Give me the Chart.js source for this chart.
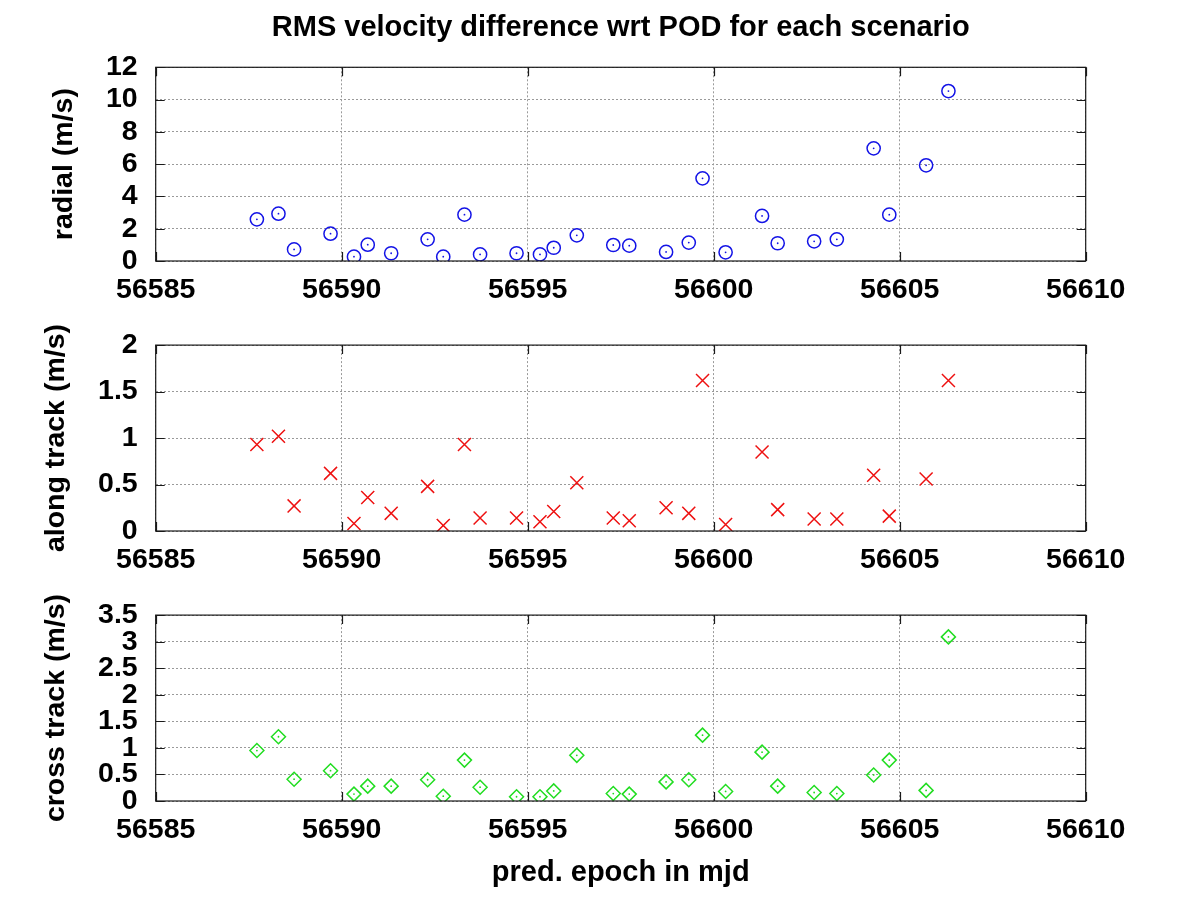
<!DOCTYPE html>
<html><head><meta charset="utf-8">
<script src="https://cdn.jsdelivr.net/npm/chart.js@4"></script>
<style>
html,body{margin:0;padding:0;background:#fff;width:1200px;height:900px;overflow:hidden}
canvas{position:absolute;left:0}
</style></head>
<body>
<canvas id="c1" width="1200" height="310" style="top:0px"></canvas>
<canvas id="c2" width="1200" height="270" style="top:310px"></canvas>
<canvas id="c3" width="1200" height="320" style="top:580px"></canvas>
<script>
// ---- data ----
const epochs = [56587.72, 56588.30, 56588.72, 56589.70, 56590.33, 56590.70, 56591.33, 56592.31, 56592.73, 56593.30,
                56593.72, 56594.70, 56595.33, 56595.70, 56596.32, 56597.30, 56597.73, 56598.72, 56599.33, 56599.70,
                56600.32, 56601.30, 56601.72, 56602.70, 56603.31, 56604.30, 56604.72, 56605.71, 56606.31];
const radial = [2.58, 2.93, 0.72, 1.69, 0.27, 1.01, 0.48, 1.34, 0.27, 2.87,
                0.41, 0.48, 0.41, 0.82, 1.59, 0.99, 0.95, 0.56, 1.14, 5.12,
                0.54, 2.79, 1.10, 1.22, 1.34, 6.98, 2.87, 5.93, 10.53];
const alongTrack = [0.93, 1.02, 0.27, 0.62, 0.08, 0.36, 0.19, 0.48, 0.06, 0.93,
                    0.14, 0.14, 0.10, 0.21, 0.52, 0.14, 0.11, 0.25, 0.19, 1.62,
                    0.07, 0.85, 0.23, 0.13, 0.13, 0.60, 0.16, 0.56, 1.62];
const crossTrack = [0.95, 1.21, 0.41, 0.57, 0.13, 0.28, 0.28, 0.40, 0.09, 0.77,
                    0.26, 0.08, 0.08, 0.19, 0.86, 0.14, 0.13, 0.36, 0.40, 1.24,
                    0.18, 0.92, 0.28, 0.16, 0.14, 0.49, 0.77, 0.20, 3.09];
const xTicks = [56585, 56590, 56595, 56600, 56605, 56610];
const radialTicks = [0, 2, 4, 6, 8, 10, 12];
const alongTicks = [0, 0.5, 1, 1.5, 2];
const crossTicks = [0, 0.5, 1, 1.5, 2, 2.5, 3, 3.5];
const chartTitle = 'RMS velocity difference wrt POD for each scenario';
const xAxisTitle = 'pred. epoch in mjd';
const radialTitle = 'radial (m/s)';
const alongTitle = 'along track (m/s)';
const crossTitle = 'cross track (m/s)';

// ---- rendering ----
const FAMILY = '"Liberation Sans", Arial, Helvetica, sans-serif';
const tickFont = {family: FAMILY, size: 28.5, weight: 'bold'};

const framePlugin = {
  id: 'frame',
  afterDraw(chart) {
    const {ctx, chartArea: a, scales} = chart;
    ctx.save();
    ctx.strokeStyle = '#1a1a1a';
    ctx.lineWidth = 1.2;
    ctx.setLineDash([]);
    ctx.beginPath();
    scales.x.ticks.forEach(t => {
      const p = Math.round(scales.x.getPixelForValue(t.value)) + 0.5;
      ctx.moveTo(p, a.bottom); ctx.lineTo(p, a.bottom - 9);
      ctx.moveTo(p, a.top); ctx.lineTo(p, a.top + 9);
    });
    scales.y.ticks.forEach(t => {
      const p = Math.round(scales.y.getPixelForValue(t.value)) + 0.5;
      ctx.moveTo(a.left, p); ctx.lineTo(a.left + 9, p);
      ctx.moveTo(a.right, p); ctx.lineTo(a.right - 9, p);
    });
    ctx.stroke();
    ctx.strokeRect(a.left, a.top, a.right - a.left, a.bottom - a.top);
    ctx.restore();
  }
};

const ylabPlugin = {
  id: 'ylab',
  afterDraw(chart, args, opts) {
    const {ctx, chartArea: a} = chart;
    ctx.save();
    ctx.font = 'bold 28.5px ' + FAMILY;
    ctx.fillStyle = '#000';
    ctx.textAlign = 'center';
    ctx.textBaseline = 'middle';
    ctx.translate(opts.x, (a.top + a.bottom) / 2 + opts.dy);
    ctx.rotate(-Math.PI / 2);
    ctx.fillText(opts.text, 0, 0);
    ctx.restore();
  }
};

function pts(vals) { return epochs.map((e, i) => ({x: e, y: vals[i]})); }

function makeChart(id, cfg) {
  const datasets = [{
    data: pts(cfg.values), showLine: false,
    pointStyle: cfg.style, pointRadius: cfg.radius, pointHoverRadius: cfg.radius,
    pointBorderWidth: 1.5, borderColor: cfg.color, backgroundColor: 'rgba(0,0,0,0)'
  }];
  if (cfg.dot) {
    datasets.push({
      data: pts(cfg.values), showLine: false,
      pointStyle: 'circle', pointRadius: 0.9, pointBorderWidth: 0,
      borderColor: cfg.color, backgroundColor: cfg.color
    });
  }
  return new Chart(document.getElementById(id), {
    type: 'scatter',
    data: {datasets},
    options: {
      responsive: false, animation: false, events: [],
      layout: {padding: {left: 41.4, right: 0, top: cfg.padTop, bottom: 0}},
      plugins: {
        legend: {display: false},
        tooltip: {enabled: false},
        title: cfg.title ? {
          display: true, text: cfg.title, color: '#000',
          font: {family: FAMILY, size: 29, weight: 'bold'},
          padding: {top: 11, bottom: 21.5}
        } : {display: false},
        ylab: {text: cfg.yTitle, x: cfg.yTitleX, dy: cfg.yTitleDy}
      },
      scales: {
        x: {
          type: 'linear', position: 'bottom', min: 56585, max: 56610,
          afterBuildTicks: s => { s.ticks = xTicks.map(v => ({value: v})); },
          afterFit: s => { s.height = cfg.xHeight; },
          ticks: {callback: v => String(v), font: tickFont, color: '#000', padding: 12, maxRotation: 0, autoSkip: false},
          grid: {color: '#9a9a9a', lineWidth: 1, drawTicks: false},
          border: {display: false, dash: [2, 2]},
          title: cfg.xTitle ? {
            display: true, text: cfg.xTitle, color: '#000',
            font: {family: FAMILY, size: 29, weight: 'bold'},
            padding: {top: 0, bottom: 9.6}
          } : {display: false}
        },
        y: {
          type: 'linear', position: 'left', min: cfg.yTicks[0], max: cfg.yTicks[cfg.yTicks.length - 1],
          afterBuildTicks: s => { s.ticks = cfg.yTicks.map(v => ({value: v})); },
          afterFit: s => { s.width = 114.3; },
          ticks: {callback: v => String(v), font: tickFont, color: '#000', padding: 18, autoSkip: false},
          grid: {color: '#9a9a9a', lineWidth: 1, drawTicks: false},
          border: {display: false, dash: [2, 2]}
        },
        y2: {
          type: 'linear', position: 'right', display: true,
          ticks: {display: false}, grid: {display: false}, border: {display: false},
          afterFit: s => { s.width = 114.3; }
        }
      }
    },
    plugins: [framePlugin, ylabPlugin]
  });
}

makeChart('c1', {values: radial, style: 'circle', radius: 6.6, color: '#1414e6', dot: true,
  padTop: 0, title: chartTitle, xHeight: 49, yTicks: radialTicks,
  yTitle: radialTitle, yTitleX: 64, yTitleDy: 0});
makeChart('c2', {values: alongTrack, style: 'crossRot', radius: 9.2, color: '#ee1111', dot: false,
  padTop: 27.3, xHeight: 49, yTicks: alongTicks,
  yTitle: alongTitle, yTitleX: 56.5, yTitleDy: 0});
makeChart('c3', {values: crossTrack, style: 'rectRot', radius: 7, color: '#22dd22', dot: true,
  padTop: 26.7, xHeight: 99, yTicks: crossTicks, xTitle: xAxisTitle,
  yTitle: crossTitle, yTitleX: 56, yTitleDy: 0});
</script>
</body></html>
